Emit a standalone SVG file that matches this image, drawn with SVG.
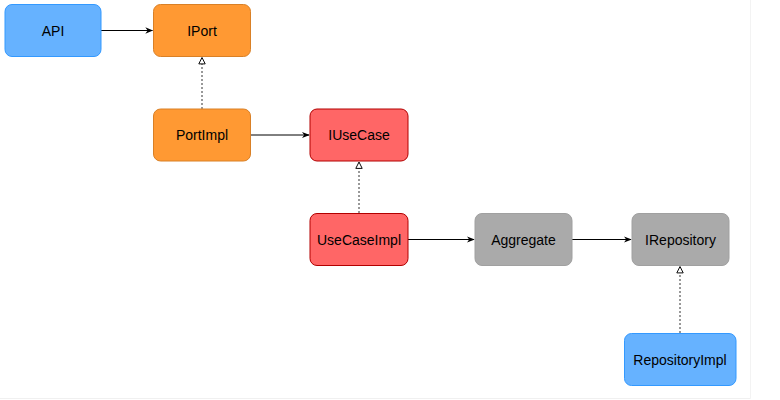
<svg xmlns="http://www.w3.org/2000/svg" width="780" height="400" viewBox="0 0 780 400">
<style>
  .n rect { stroke-width: 1; }
  .blue rect { fill: #66B2FF; stroke: #3399FF; }
  .orange rect { fill: #FF9933; stroke: #D98026; }
  .red rect { fill: #FF6666; stroke: #B20000; }
  .gray rect { fill: #AAAAAA; stroke: #A0A0A0; }
  .n text { font-family: "Liberation Sans", Arial, sans-serif; font-size: 14px; fill: #000; text-anchor: middle; dominant-baseline: central; }
  .solid { stroke: #000; stroke-width: 1; fill: none; marker-end: url(#arrow); }
  .dash { stroke: #333; stroke-width: 1; fill: none; stroke-dasharray: 2 2; marker-end: url(#tri); }
</style>
<defs>
  <marker id="arrow" viewBox="0 0 10 10" refX="9" refY="5" markerWidth="8" markerHeight="8" markerUnits="userSpaceOnUse" orient="auto">
    <path d="M0,1 L10,5 L0,9 L3,5 Z" fill="#000"/>
  </marker>
  <marker id="tri" viewBox="0 0 10 10" refX="9" refY="5" markerWidth="8" markerHeight="8" markerUnits="userSpaceOnUse" orient="auto">
    <path d="M1,1 L9,5 L1,9 Z" fill="#fff" stroke="#000" stroke-width="1.2"/>
  </marker>
</defs>
<rect x="0" y="0" width="780" height="400" fill="#fff"/>
<line x1="750.5" y1="0" x2="750.5" y2="398.5" stroke="#f3f3f3"/>
<line x1="0" y1="398.5" x2="750.5" y2="398.5" stroke="#f0f0f0"/>
<g id="connectors">
  <line class="solid" x1="101" y1="30.5" x2="152.5" y2="30.5"/>
  <line class="dash" x1="202" y1="109" x2="202" y2="57.5"/>
  <line class="solid" x1="251" y1="135" x2="309" y2="135"/>
  <line class="dash" x1="359" y1="213" x2="359" y2="162"/>
  <line class="solid" x1="408" y1="239.5" x2="474" y2="239.5"/>
  <line class="solid" x1="572" y1="239.5" x2="631" y2="239.5"/>
  <line class="dash" x1="680" y1="333" x2="680" y2="266.5"/>
</g>
<g id="API" class="n blue"><rect x="5" y="4.5" width="96" height="52" rx="7"/><text x="53" y="30.5">API</text></g>
<g id="IPort" class="n orange"><rect x="153.5" y="4.5" width="97" height="52" rx="7"/><text x="202" y="30.5">IPort</text></g>
<g id="PortImpl" class="n orange"><rect x="153.5" y="109" width="97" height="52" rx="7"/><text x="202" y="135">PortImpl</text></g>
<g id="IUseCase" class="n red"><rect x="310" y="109" width="98" height="52" rx="7"/><text x="359" y="135">IUseCase</text></g>
<g id="UseCaseImpl" class="n red"><rect x="310" y="213.5" width="98" height="52" rx="7"/><text x="359" y="239.5">UseCaseImpl</text></g>
<g id="Aggregate" class="n gray"><rect x="475" y="213.5" width="97" height="52" rx="7"/><text x="523.5" y="239.5">Aggregate</text></g>
<g id="IRepository" class="n gray"><rect x="632" y="213.5" width="97" height="52" rx="7"/><text x="680.5" y="239.5">IRepository</text></g>
<g id="RepositoryImpl" class="n blue"><rect x="624.5" y="333.5" width="111.5" height="52" rx="7"/><text x="680" y="359.5">RepositoryImpl</text></g>
</svg>
